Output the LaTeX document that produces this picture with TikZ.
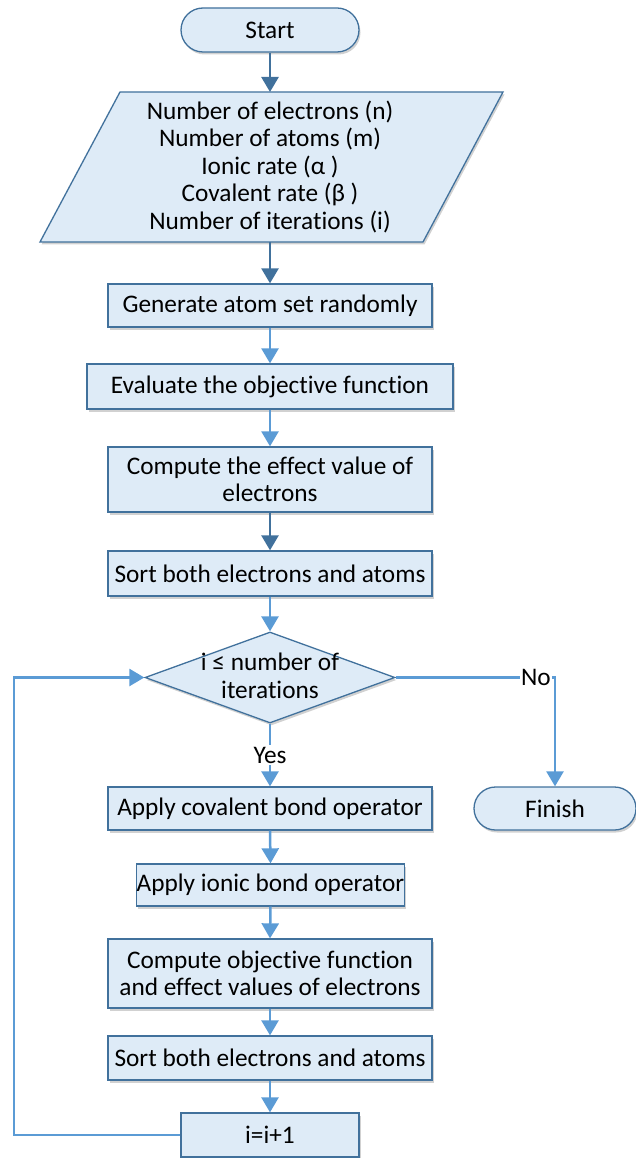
\documentclass[tikz,border=0pt]{standalone}
\usepackage{fontspec}
\setmainfont{Carlito}[Ligatures={NoCommon}]
\usetikzlibrary{shapes.geometric,shapes.misc,arrows.meta,shadows}
\definecolor{boxfill}{HTML}{DEEBF7}
\definecolor{boxline}{HTML}{41719C}
\definecolor{darkarr}{HTML}{41719C}
\definecolor{lightarr}{HTML}{5B9BD5}
\tikzset{
  shad/.style={drop shadow={shadow xshift=1.5pt, shadow yshift=-2.5pt, opacity=0.18, fill=black}},
  procbox/.style={draw=boxline, line width=1.3pt, fill=boxfill, shad, rectangle, inner sep=0pt, align=center},
  termbox/.style={draw=boxline, line width=1.3pt, fill=boxfill, shad, rounded rectangle, inner sep=0pt, align=center},
  decbox/.style={draw=boxline, line width=1.3pt, fill=boxfill, shad, diamond, inner sep=0pt, aspect=2.75, minimum width=250pt, minimum height=91pt},
  darkflow/.style={draw=darkarr, line width=2.5pt, -{Triangle[width=17pt,length=15pt]}},
  lightflow/.style={draw=lightarr, line width=2.5pt, -{Triangle[width=17pt,length=15pt]}},
  lab/.style={fill=white, inner sep=1.5pt}
}
\begin{document}
\begin{tikzpicture}[x=1pt,y=-1pt,font=\fontsize{25.3}{27.5}\selectfont]
\useasboundingbox (0,0) rectangle (636,1158);
% start
\node[termbox, minimum width=178pt, minimum height=44pt] (start) at (270,30) {Start};
% parallelogram input
\fill[black, opacity=0.18, xshift=1.5pt, yshift=-2.5pt] (120,92) -- (503,92) -- (423,242) -- (40,242) -- cycle;
\filldraw[draw=boxline, line width=1.3pt, fill=boxfill] (120,92) -- (503,92) -- (423,242) -- (40,242) -- cycle;
\node[inner sep=0pt, minimum width=300pt, minimum height=150pt, align=center] (inp) at (270,167)
  {Number of electrons (n)\\Number of atoms (m)\\Ionic rate (α )\\Covalent rate (β )\\Number of iterations (i)};
% process boxes
\node[procbox, minimum width=324pt, minimum height=43pt] (gen) at (270,305.5) {Generate atom set randomly};
\node[procbox, minimum width=366pt, minimum height=45pt] (eval) at (270,386.5) {Evaluate the objective function};
\node[procbox, minimum width=324pt, minimum height=65pt] (eff) at (270,479.5) {Compute the effect value of\\electrons};
\node[procbox, minimum width=324pt, minimum height=45pt] (sort1) at (270,573.5) {Sort both electrons and atoms};
% decision
\node[decbox] (dec) at (270,677.5) {};
\node[align=center, inner sep=0pt] (dectext) at (270,676) {i ≤ number of\\iterations};
% loop body
\node[procbox, minimum width=324pt, minimum height=43pt] (cov) at (270,808.5) {Apply covalent bond operator};
\node[termbox, minimum width=162pt, minimum height=43pt] (fin) at (555,808.5) {Finish};
\node[procbox, minimum width=267pt, minimum height=42pt] (ion) at (270.5,885) {Apply ionic bond operator};
\node[procbox, minimum width=324pt, minimum height=69pt] (cobj) at (270,973.5) {Compute objective function\\and effect values of electrons};
\node[procbox, minimum width=324pt, minimum height=44pt] (sort2) at (270,1058) {Sort both electrons and atoms};
\node[procbox, minimum width=178pt, minimum height=44pt] (inc) at (270,1135) {i=i+1};
\coordinate (lp) at (14,1135);
% connectors
\draw[darkflow] (start.south) -- (270,92);
\draw[darkflow] (270,242) -- (gen.north);
\draw[lightflow] (gen.south) -- (eval.north);
\draw[lightflow] (eval.south) -- (eff.north);
\draw[darkflow] (eff.south) -- (sort1.north);
\draw[lightflow] (sort1.south) -- (dec.north);
\draw[lightflow] (dec.south) -- node[lab, pos=0.5] {Yes} (cov.north);
\draw[lightflow] (dec.east) -| node[lab, pos=0.44] {No} (fin.north);
\draw[lightflow] (cov.south) -- (ion.north);
\draw[lightflow] (ion.south) -- (cobj.north);
\draw[lightflow] (cobj.south) -- (sort2.north);
\draw[lightflow] (sort2.south) -- (inc.north);
\draw[lightflow] (inc.west) -- (lp) |- (dec.west);
\end{tikzpicture}
\end{document}
